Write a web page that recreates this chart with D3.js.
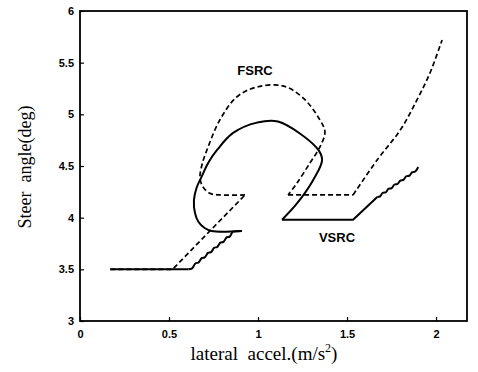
<!DOCTYPE html>
<html><head><meta charset="utf-8">
<script src="https://cdn.jsdelivr.net/npm/d3@7/dist/d3.min.js"></script>
<style>body{margin:0;background:#fff}svg{display:block}</style>
</head><body>
<svg id="c" width="478" height="372"></svg>
<script>
// ---- data ----
const xTicks = [0, 0.5, 1, 1.5, 2];
const yTicks = [3, 3.5, 4, 4.5, 5, 5.5, 6];
const xTickLabels = ["0", "0.5", "1", "1.5", "2"];
const yTickLabels = ["3", "3.5", "4", "4.5", "5", "5.5", "6"];

// VSRC (solid)
const vsrcStart = [[0.17,3.50],[0.61,3.50]];
const vsrcStairLow = [[0.61,3.50],[0.63,3.51],[0.65,3.56],[0.665,3.565],[0.685,3.61],[0.70,3.615],[0.72,3.66],[0.735,3.665],[0.755,3.71],[0.77,3.715],[0.79,3.76],[0.805,3.765],[0.825,3.81],[0.84,3.815],[0.86,3.865],[0.91,3.87]];
const vsrcLoop = [[0.91,3.87],[0.74,3.87],[0.70,3.90],[0.665,3.96],[0.646,4.045],[0.64,4.17],[0.655,4.29],[0.684,4.40],[0.72,4.53],[0.77,4.655],[0.86,4.82],[0.994,4.92],[1.112,4.93],[1.33,4.675],[1.36,4.56],[1.31,4.365],[1.22,4.14],[1.135,3.98]];
const vsrcFlat = [[1.135,3.98],[1.534,3.98],[1.67,4.20]];
const vsrcStairHigh = [[1.67,4.20],[1.685,4.205],[1.70,4.24],[1.718,4.245],[1.733,4.28],[1.75,4.285],[1.766,4.32],[1.783,4.325],[1.80,4.36],[1.816,4.365],[1.832,4.40],[1.85,4.405],[1.866,4.44],[1.882,4.445],[1.90,4.49]];

// FSRC (dashed)
const fsrcRamp = [[0.17,3.50],[0.52,3.50],[0.927,4.22]];
const fsrcLoop = [[0.927,4.22],[0.787,4.22],[0.73,4.235],[0.69,4.30],[0.674,4.39],[0.685,4.51],[0.713,4.655],[0.787,4.95],[0.882,5.17],[0.994,5.265],[1.14,5.275],[1.253,5.16],[1.348,4.945],[1.376,4.83],[1.348,4.685],[1.292,4.53],[1.219,4.335],[1.169,4.22]];
const fsrcFlat = [[1.169,4.22],[1.534,4.22]];
const fsrcHigh = [[1.534,4.22],[1.67,4.56],[1.80,4.85],[1.893,5.14],[1.966,5.40],[2.034,5.72]];

// ---- layout ----
const svg = d3.select("#c");
const L = 80, R = 467, T = 11, B = 321;
const x = d3.scaleLinear().domain([0, 2.174]).range([L, R]);
const y = d3.scaleLinear().domain([3, 6]).range([B, T]);

// frame
svg.append("rect").attr("x", L).attr("y", T).attr("width", R-L).attr("height", B-T)
  .attr("fill", "none").attr("stroke", "#000").attr("stroke-width", 1.8);

// axes (ticks inward)
const xAxis = d3.axisBottom(x).tickValues(xTicks).tickSize(-4).tickPadding(9)
  .tickFormat((d,i)=>xTickLabels[i]);
const yAxis = d3.axisLeft(y).tickValues(yTicks).tickSize(-4).tickPadding(6)
  .tickFormat((d,i)=>yTickLabels[i]);
const gx = svg.append("g").attr("transform", `translate(0,${B})`).call(xAxis);
const gy = svg.append("g").attr("transform", `translate(${L},0)`).call(yAxis);
[gx, gy].forEach(g=>{
  g.select(".domain").remove();
  g.selectAll(".tick line").attr("stroke", "#000").attr("stroke-width", 1.2);
  g.selectAll(".tick text").attr("fill", "#000")
    .style("font-family", "Liberation Sans, Arial, sans-serif")
    .style("font-weight", "bold").style("font-size", "11px");
});
gx.selectAll(".tick text").attr("dy", "0.71em");

// curves
const smooth = d3.line().x(d=>x(d[0])).y(d=>y(d[1])).curve(d3.curveCatmullRom.alpha(0.5));
const mono = d3.line().x(d=>x(d[0])).y(d=>y(d[1])).curve(d3.curveMonotoneX);
const lin = d3.line().x(d=>x(d[0])).y(d=>y(d[1]));

function draw(data, gen, dashed){
  svg.append("path").attr("d", gen(data)).attr("fill", "none")
    .attr("stroke", "#000").attr("stroke-width", dashed ? 1.7 : 2)
    .attr("stroke-dasharray", dashed ? "5,3" : null)
    .attr("stroke-linejoin", "round");
}
draw(vsrcStart, lin, false);
draw(vsrcStairLow, mono, false);
draw(vsrcLoop, smooth, false);
draw(vsrcFlat, lin, false);
draw(vsrcStairHigh, mono, false);
draw(fsrcRamp, lin, true);
draw(fsrcLoop, smooth, true);
draw(fsrcFlat, lin, true);
draw(fsrcHigh, smooth, true);

// labels
svg.append("text").attr("x", 255).attr("y", 75).attr("text-anchor", "middle")
  .style("font-family", "Liberation Sans, Arial, sans-serif").style("font-weight", "bold")
  .style("font-size", "13px").text("FSRC");
svg.append("text").attr("x", 337).attr("y", 242).attr("text-anchor", "middle")
  .style("font-family", "Liberation Sans, Arial, sans-serif").style("font-weight", "bold")
  .style("font-size", "13px").text("VSRC");

const xl = svg.append("text").attr("x", 264).attr("y", 360).attr("text-anchor", "middle")
  .style("font-family", "Liberation Serif, Times New Roman, serif").style("font-size", "19px");
xl.append("tspan").text("lateral\u00a0 accel.(m/s");
xl.append("tspan").attr("dy", -8).style("font-size", "12px").text("2");
xl.append("tspan").attr("dy", 8).text(")");

svg.append("text").attr("transform", "translate(31,167) rotate(-90)").attr("text-anchor", "middle")
  .style("font-family", "Liberation Serif, Times New Roman, serif").style("font-size", "18px")
  .text("Steer\u00a0 angle(deg)");
</script>
</body></html>
